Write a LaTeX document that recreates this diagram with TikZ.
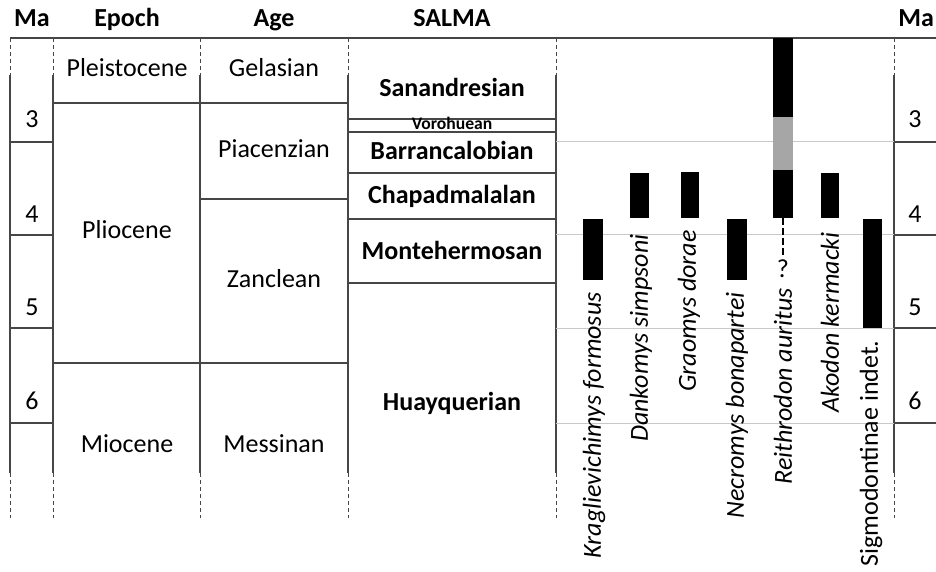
\documentclass[tikz,border=0pt]{standalone}
\usepackage{fontspec}
\setmainfont{Carlito}
\usepackage{tikz}
\usepackage{xcolor}

\definecolor{rulegray}{RGB}{70,70,70}
\definecolor{gridgray}{RGB}{200,200,200}
\definecolor{midgray}{RGB}{166,166,166}

\tikzset{
  ttl/.style={font=\fontsize{13}{15}\selectfont\bfseries, inner sep=0pt, anchor=base},
  txt/.style={font=\fontsize{13}{15}\selectfont, inner sep=0pt, anchor=base},
  stage/.style={font=\fontsize{13}{15}\selectfont\bfseries, inner sep=0pt, anchor=base},
  taxon/.style={font=\fontsize{13}{15}\selectfont\itshape, rotate=90, anchor=east, inner sep=0pt},
  rule/.style={draw=rulegray, line width=0.6pt},
  grid/.style={draw=gridgray, line width=0.5pt},
  open/.style={draw=rulegray, line width=0.5pt, dash pattern=on 2pt off 1.5pt},
}

\begin{document}
\begin{tikzpicture}[x=0.5pt,y=-0.5pt]
\useasboundingbox (0,0) rectangle (936,572);

% headings
\node(hma) at (32,27)[ttl]{Ma};
\node(hepoch) at (127,27)[ttl]{Epoch};
\node(hage) at (274,27)[ttl]{Age};
\node(hsalma) at (452,27)[ttl]{SALMA};
\node(hmb) at (898,27)[ttl,anchor=base west]{Ma};
\draw[draw=rulegray,line width=0.8pt] (10,38) -- (936,38);

% column borders
\foreach \x in {10,53,200,348,556,894}{
  \draw[open] (\x,38) -- (\x,75);
  \draw[rule] (\x,75) -- (\x,473);
  \draw[open] (\x,473) -- (\x,518);
}

% Ma ticks
\foreach \y in {142,235,328,423}{
  \draw[grid] (556,\y) -- (894,\y);
  \draw[rule] (10,\y) -- (53,\y);
  \draw[rule] (894,\y) -- (936,\y);
}
\foreach \n/\y in {3/128,4/222,5/315,6/409}{
  \node(ma\n) at (32,\y)[txt]{\n};
  \node(mb\n) at (915,\y)[txt]{\n};
}

% epochs and ages
\draw[rule] (53,103) -- (348,103);
\draw[rule] (200,199) -- (348,199);
\draw[rule] (53,363) -- (348,363);
\node(pleist) at (127,77)[txt]{Pleistocene};
\node(plio) at (127,239)[txt]{Pliocene};
\node(mio) at (127,452)[txt]{Miocene};
\node(gel) at (274,77)[txt]{Gelasian};
\node(pia) at (274,158)[txt]{Piacenzian};
\node(zan) at (274,287)[txt]{Zanclean};
\node(mes) at (274,452)[txt]{Messinan};

% SALMA
\foreach \y in {119,132,173,219,283}{
  \draw[rule] (348,\y) -- (556,\y);
}
\node(sanan) at (452,97)[stage]{Sanandresian};
\node(voro) at (452,130)[stage,font=\fontsize{8.8}{9}\selectfont\bfseries]{Vorohuean};
\node(barra) at (452,160)[stage]{Barrancalobian};
\node(chapa) at (452,204)[stage]{Chapadmalalan};
\node(monte) at (452,259)[stage]{Montehermosan};
\node(huayq) at (452,410)[stage]{Huayquerian};

% ranges
\fill (583,219) rectangle (603,280);
\fill (630,173) rectangle (649,218);
\fill (681,172) rectangle (699,218);
\fill (727,219) rectangle (747,280);
\fill (773,38) rectangle (793,117);
\fill[midgray] (773,117) rectangle (793,170);
\fill (773,170) rectangle (793,218);
\fill (821,173) rectangle (839,218);
\fill (863,219) rectangle (882,328);

\coordinate (rb) at (783,218);
\coordinate (re) at (783,256);
\draw[line width=1.3pt,dash pattern=on 3.4pt off 1.6pt] (rb) -- (re);
\node(rq) at (783,278)[txt]{?};

% taxa
\node(krag) at (594,292)[taxon]{Kraglievichimys formosus};
\node(dank) at (641,234)[taxon]{Dankomys simpsoni};
\node(grao) at (689,230)[taxon]{Graomys dorae};
\node(necro) at (737,292)[taxon]{Necromys bonapartei};
\node(reith) at (783,288)[taxon]{Reithrodon auritus};
\node(akod) at (830,232)[taxon]{Akodon kermacki};
\node(sigmo) at (871,340)[taxon,font=\fontsize{13}{15}\selectfont]{Sigmodontinae indet.};

\end{tikzpicture}
\end{document}
